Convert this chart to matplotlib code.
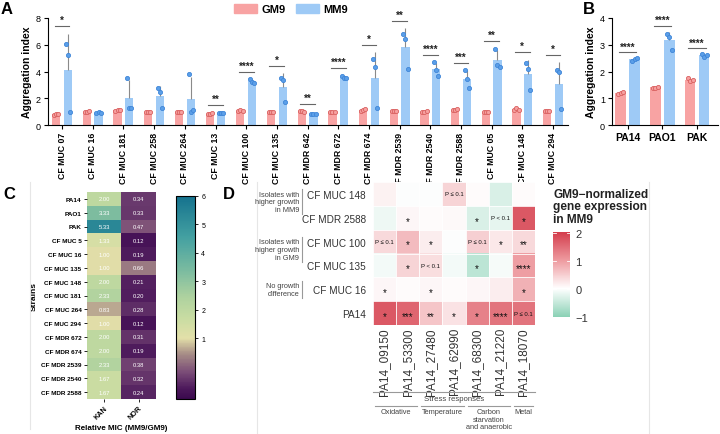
import numpy as np
import matplotlib
matplotlib.use('Agg')
import matplotlib.pyplot as plt
from matplotlib.colors import LinearSegmentedColormap, Normalize, FuncNorm
from matplotlib.patches import Patch

plt.rcParams['font.family'] = ['Liberation Sans', 'DejaVu Sans']

# ---------------- Panel A data ----------------
a_strains = ['CF MUC 07', 'CF MUC 16', 'CF MUC 181', 'CF MUC 258', 'CF MUC 264', 'CF MUC 13',
             'CF MUC 100', 'CF MUC 135', 'CF MDR 642', 'CF MDR 672', 'CF MDR 674', 'CF MDR 2539',
             'CF MDR 2540', 'CF MDR 2588', 'CF MUC 05', 'CF MUC 148', 'CF MUC 294']
a_gm9 = [[0.72, 0.80, 0.85], [0.95, 1.00, 1.02], [1.05, 1.12, 1.15], [1.00, 1.00, 1.00],
         [1.00, 1.00, 1.00], [0.85, 0.85, 0.87], [1.05, 1.10, 1.08], [1.00, 1.00, 1.00],
         [1.02, 1.05, 1.00], [1.00, 1.00, 1.00], [1.05, 1.15, 1.20], [1.05, 1.05, 1.05],
         [0.95, 1.00, 1.05], [1.12, 1.15, 1.20], [0.95, 0.95, 1.00], [1.10, 1.25, 1.15],
         [1.05, 1.05, 1.05]]
a_mm9 = [[6.05, 5.27, 1.00], [0.90, 0.95, 0.92], [3.55, 1.25, 1.30], [2.75, 2.45, 1.25],
         [3.80, 1.00, 1.10], [0.90, 0.92, 0.93], [3.45, 3.20, 3.15], [3.50, 3.40, 1.70],
         [0.82, 0.80, 0.82], [3.70, 3.50, 3.55], [4.95, 4.30, 1.30], [6.80, 6.45, 4.20],
         [4.70, 4.10, 3.70], [4.10, 3.45, 2.80], [5.70, 4.50, 4.30], [4.65, 4.20, 2.65],
         [4.10, 3.95, 1.20]]
a_sig = ['*', '', '', '', '', '**', '****', '*', '**', '****', '*', '**', '****', '***', '**', '*', '*']
a_yticks = [0, 2, 4, 6, 8]

# ---------------- Panel B data ----------------
b_strains = ['PA14', 'PAO1', 'PAK']
b_gm9 = [[1.15, 1.20, 1.22], [1.40, 1.40, 1.42], [1.75, 1.65, 1.70]]
b_mm9 = [[2.40, 2.45, 2.50], [3.41, 3.29, 2.79], [2.65, 2.55, 2.60]]
b_sig = ['****', '****', '****']
b_yticks = [0, 1, 2, 3, 4]

# ---------------- Panel C data ----------------
c_strains = ['PA14', 'PAO1', 'PAK', 'CF MUC 5', 'CF MUC 16', 'CF MUC 135', 'CF MUC 148',
             'CF MUC 181', 'CF MUC 264', 'CF MUC 294', 'CF MDR 672', 'CF MDR 674',
             'CF MDR 2539', 'CF MDR 2540', 'CF MDR 2588']
c_drugs = ['KAN', 'NOR']
c_kan = [2.00, 3.33, 5.33, 1.33, 1.00, 1.00, 2.00, 2.33, 0.83, 1.00, 2.00, 2.00, 2.33, 1.67, 1.67]
c_nor = [0.34, 0.33, 0.47, 0.12, 0.19, 0.66, 0.21, 0.20, 0.28, 0.12, 0.31, 0.19, 0.38, 0.32, 0.24]
c_cbar_ticks = [1, 2, 3, 4, 5, 6]

# ---------------- Panel D data ----------------
d_rows = ['CF MUC 148', 'CF MDR 2588', 'CF MUC 100', 'CF MUC 135', 'CF MUC 16', 'PA14']
d_genes = ['PA14_09150', 'PA14_53300', 'PA14_27480', 'PA14_62990', 'PA14_68300', 'PA14_21220', 'PA14_18070']
d_values = [[0.15, 0.00, 0.00, 0.45, 0.05, -0.30, 0.05],
            [-0.12, 0.10, 0.05, 0.08, -0.30, -0.20, 1.75],
            [0.40, 0.70, 0.20, 0.00, 0.50, 0.25, 0.40],
            [-0.08, 0.45, 0.35, -0.08, -0.55, -0.05, 1.00],
            [0.10, 0.05, 0.10, 0.05, 0.10, 0.20, 0.80],
            [1.75, 1.60, 0.60, 0.30, 1.30, 1.45, 1.45]]
d_annot = [['', '', '', 'P ≤ 0.1', '', '', ''],
           ['', '*', '', '', '*', 'P < 0.1', '*'],
           ['P ≤ 0.1', '*', '*', '', 'P ≤ 0.1', '*', '**'],
           ['', '*', 'P < 0.1', '', '*', '', '****'],
           ['*', '', '*', '', '', '', '*'],
           ['*', '***', '**', '*', '*', '****', 'P ≤ 0.1']]
d_row_groups = [('Isolates with\nhigher growth\nin MM9', 0, 1),
                ('Isolates with\nhigher growth\nin GM9', 2, 3),
                ('No growth\ndifference', 4, 4)]
d_gene_groups = [('Oxidative', 0, 1), ('Temperature', 2, 3),
                 ('Carbon\nstarvation\nand anaerobic', 4, 5), ('Metal', 6, 6)]
d_cbar_ticks = [-1, 0, 1, 2]

# ---------------- figure ----------------
W, H = 720, 435
fig = plt.figure(figsize=(W / 100, H / 100), dpi=100)


def px_axes(l, t, r, b):
    return fig.add_axes([l / W, 1 - b / H, (r - l) / W, (b - t) / H])


PINK = '#F8A3A3'
PINK_E = '#D9605F'
BLUE = '#9ECAF6'
BLUE_E = '#3F86D8'


def grouped_bars(ax, names, gm, mm, sig, off, bw, sig_gap, ticks):
    x = np.arange(len(names))
    gm_m = np.array([np.mean(v) for v in gm])
    mm_m = np.array([np.mean(v) for v in mm])
    gm_s = np.array([np.std(v, ddof=1) for v in gm])
    mm_s = np.array([np.std(v, ddof=1) for v in mm])
    ax.bar(x - off, gm_m, bw, color=PINK, zorder=1)
    ax.bar(x + off, mm_m, bw, color=BLUE, zorder=1)
    ax.errorbar(x - off, gm_m, yerr=[np.zeros_like(gm_s), gm_s], fmt='none',
                ecolor='#8a8a8a', elinewidth=0.8, capsize=0, zorder=2)
    ax.errorbar(x + off, mm_m, yerr=[np.zeros_like(mm_s), mm_s], fmt='none',
                ecolor='#8a8a8a', elinewidth=0.8, capsize=0, zorder=2)
    jit = np.array([-0.07, 0.0, 0.07])
    for i in range(len(names)):
        ax.scatter(x[i] - off + jit, gm[i], s=9, facecolor='#F6A0A0', edgecolor=PINK_E,
                   linewidths=0.6, zorder=3)
        ax.scatter(x[i] + off + jit, mm[i], s=9, facecolor='#5B9FE8', edgecolor=BLUE_E,
                   linewidths=0.6, zorder=3)
        if sig[i]:
            top = max(max(gm[i]), max(mm[i]), gm_m[i] + gm_s[i], mm_m[i] + mm_s[i])
            y = top + sig_gap
            ax.plot([x[i] - off - 0.05, x[i] + off + 0.05], [y, y], color='#666666', lw=0.8)
            ax.text(x[i], y + sig_gap * 0.15, sig[i], ha='center', va='bottom',
                    fontsize=7, fontweight='bold', color='#222222')
    ax.set_xticks(x)
    ax.set_yticks(ticks)
    ax.set_ylim(ticks[0], ticks[-1])
    for s in ['top', 'right']:
        ax.spines[s].set_visible(False)
    for s in ['left', 'bottom']:
        ax.spines[s].set_linewidth(0.8)
    ax.tick_params(axis='y', labelsize=6.5, width=0.8, length=3, pad=2)
    ax.set_ylabel('Aggregation index', fontsize=7.5, fontweight='bold', labelpad=3)
    return x


# Panel A
axA = px_axes(48, 19, 568, 126)
x = grouped_bars(axA, a_strains, a_gm9, a_mm9, a_sig, 0.19, 0.27, 0.55, a_yticks)
axA.set_xlim(-0.46, len(a_strains) - 0.51)
axA.set_xticklabels(a_strains, rotation=90, fontsize=6.3, fontweight='bold')
axA.tick_params(axis='x', width=0.8, length=3, pad=2)

fig.legend(handles=[Patch(color=PINK, label='GM9'), Patch(color=BLUE, label='MM9')],
           loc='upper center', bbox_to_anchor=(291 / W, 1.012), ncol=2, frameon=False,
           prop={'weight': 'bold', 'size': 8}, handlelength=2.0, handleheight=0.9,
           columnspacing=1.0, handletextpad=0.4)

# Panel B
axB = px_axes(612, 19, 718, 126)
xb = grouped_bars(axB, b_strains, b_gm9, b_mm9, b_sig, 0.2, 0.3, 0.22, b_yticks)
axB.set_xlim(-0.45, 2.6)
axB.set_xticklabels(b_strains, fontsize=7.5, fontweight='bold')
axB.tick_params(axis='x', width=0.8, length=3, pad=2)

# Panel C
c_cmap = LinearSegmentedColormap.from_list('mic', [
    (0.00, '#3b0a4e'), (0.05, '#4c185b'), (0.13, '#7a4c77'), (0.22, '#a68c86'),
    (0.30, '#e3e0a9'), (0.40, '#c8dca2'), (0.50, '#afd29f'), (0.63, '#7cbca0'),
    (0.80, '#43a0a1'), (1.00, '#15728e')])


def c_fwd(v):
    return np.interp(v, [0, 1, 6], [0, 0.3, 1])


def c_inv(v):
    return np.interp(v, [0, 0.3, 1], [0, 1, 6])


c_norm = FuncNorm((c_fwd, c_inv), vmin=0, vmax=6)
c_data = np.array([c_kan, c_nor]).T
axC = px_axes(87, 193, 156, 400)
imC = axC.imshow(c_data, cmap=c_cmap, norm=c_norm, aspect='auto')
for i in range(len(c_strains)):
    for j in range(len(c_drugs)):
        axC.text(j, i, f'{c_data[i, j]:.2f}', ha='center', va='center', fontsize=4.2,
                 color='white')
axC.set_yticks(range(len(c_strains)))
axC.set_yticklabels(c_strains, fontsize=4.6, fontweight='bold')
axC.set_xticks(range(len(c_drugs)))
axC.set_xticklabels(c_drugs, rotation=45, ha='right', rotation_mode='anchor', fontsize=5.2,
                    fontweight='bold')
axC.tick_params(length=2.5, width=0.6, pad=1.5)
for s in axC.spines.values():
    s.set_visible(False)
axC.set_ylabel('Strains', fontsize=6, fontweight='bold', labelpad=2)
axC.set_xlabel('Relative MIC (MM9/GM9)', fontsize=5.8, fontweight='bold', labelpad=2)
caxC = px_axes(176, 197, 195, 400)
cbC = fig.colorbar(imC, cax=caxC, ticks=c_cbar_ticks)
cbC.outline.set_linewidth(0.8)
caxC.tick_params(labelsize=5, length=2.5, width=0.6, pad=2)

# Panel D
d_cmap = LinearSegmentedColormap.from_list('div', [
    (0.0, '#8ad1b5'), (1 / 3, '#ffffff'), (0.66, '#ee9da2'), (1.0, '#d43d4c')])
d_norm = Normalize(vmin=-1, vmax=2.05)
axD = px_axes(373, 183, 535, 326)
d_arr = np.array(d_values)
imD = axD.imshow(d_arr, cmap=d_cmap, norm=d_norm, aspect='auto')
for i in range(len(d_rows)):
    for j in range(len(d_genes)):
        t = d_annot[i][j]
        if t:
            if t.startswith('P'):
                axD.text(j, i, t, ha='center', va='center', fontsize=4.3, color='#111111')
            else:
                axD.text(j, i + 0.12, t, ha='center', va='center', fontsize=7, color='#111111')
axD.set_xticks(np.arange(-0.5, len(d_genes), 1), minor=True)
axD.set_yticks(np.arange(-0.5, len(d_rows), 1), minor=True)
axD.grid(which='minor', color='white', lw=0.6)
axD.tick_params(which='both', length=0)
axD.set_yticks(range(len(d_rows)))
axD.set_yticklabels(d_rows, fontsize=7.2, color='#333333')
axD.set_xticks(range(len(d_genes)))
axD.set_xticklabels(d_genes, rotation=90, fontsize=8.5, color='#333333')
axD.tick_params(axis='x', pad=1.5)
axD.tick_params(axis='y', pad=5)
for s in axD.spines.values():
    s.set_visible(False)

caxD = px_axes(553, 233, 570, 318)
cbD = fig.colorbar(imD, cax=caxD, ticks=d_cbar_ticks)
cbD.outline.set_visible(False)
cbD.set_ticklabels(['−1', '0', '1', '2'])
caxD.tick_params(labelsize=8, length=0, pad=4, labelcolor='#333333')
for t in d_cbar_ticks:
    caxD.plot([0.0, 0.2], [t, t], color='white', lw=0.6, transform=caxD.get_yaxis_transform())
    caxD.plot([0.8, 1.0], [t, t], color='white', lw=0.6, transform=caxD.get_yaxis_transform())
fig.text(553 / W, 1 - 189 / H, 'GM9−normalized\ngene expression\nin MM9', ha='left', va='top',
         fontsize=8.6, fontweight='bold', color='#222222', linespacing=1.05)

# overlay for annotations in pixel coordinates
ov = fig.add_axes([0, 0, 1, 1], facecolor='none')
ov.set_xlim(0, W)
ov.set_ylim(H, 0)
ov.axis('off')

# separators
for xs, y0, y1 in [(30, 183, 430), (257, 183, 435), (649, 183, 435)]:
    ov.plot([xs, xs], [y0, y1], color='#e6e6e6', lw=0.8)

# panel labels
for lab, lx, ly in [('A', 7, 9), ('B', 589, 9), ('C', 9, 195), ('D', 229, 195)]:
    ov.text(lx, ly, lab, fontsize=12, fontweight='bold', ha='center', va='center')

# D row groups
d_top, d_rh = 183, (326 - 183) / len(d_rows)
for label, r0, r1 in d_row_groups:
    yc = d_top + d_rh * ((r0 + r1) / 2 + 0.5)
    if r0 != r1:
        yc -= 4
    ov.text(299, yc, label, ha='right', va='center', fontsize=5.3, color='#444444',
            linespacing=1.15)
    nl = label.count('\n') + 1
    hh = nl * 4.2
    ov.plot([302, 302], [yc - hh, yc + hh], color='#999999', lw=0.8)

# D gene groups
d_left, d_cw = 373, (535 - 373) / len(d_genes)
ov.plot([d_left, d_left + d_cw * len(d_genes)], [393, 393], color='#999999', lw=0.8)
ov.text(d_left + d_cw * len(d_genes) / 2, 396.5, 'Stress responses', ha='center', va='top',
        fontsize=5.6, color='#444444')
for label, c0, c1 in d_gene_groups:
    xa = d_left + d_cw * c0 + 2
    xb_ = d_left + d_cw * (c1 + 1) - 2
    ov.plot([xa, xb_], [407, 407], color='#999999', lw=0.8)
    ov.text((xa + xb_) / 2, 409.5, label, ha='center', va='top', fontsize=5.3,
            color='#444444', linespacing=1.05)

fig.savefig('out.png', dpi=100)
